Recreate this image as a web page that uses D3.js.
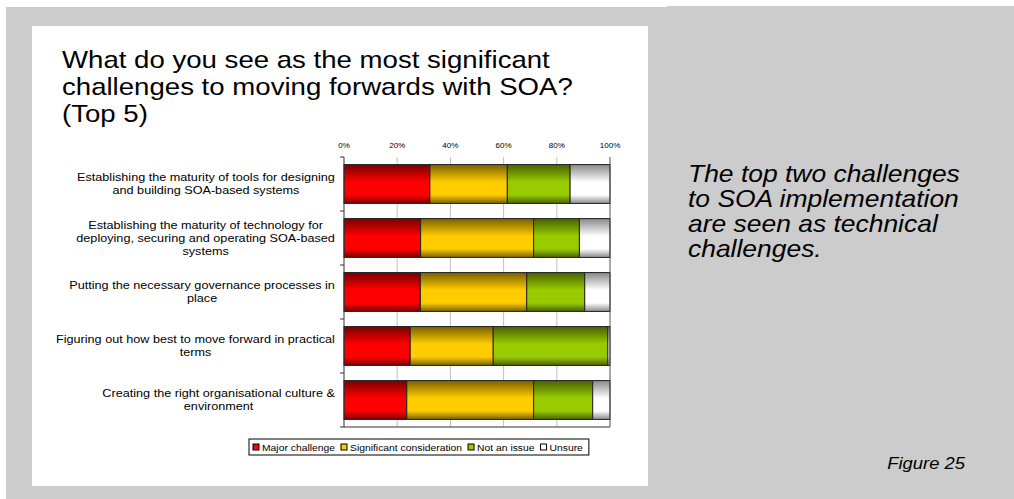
<!DOCTYPE html>
<html>
<head>
<meta charset="utf-8">
<script src="https://cdn.jsdelivr.net/npm/d3@7"></script>
<style>
  body { margin: 0; background: #ffffff; }
  text { font-family: Arial, "Liberation Sans", sans-serif; }
</style>
</head>
<body>
<svg id="chart" width="1014" height="499"></svg>
<script>
// Survey question and answers
const titleLines = [
  "What do you see as the most significant",
  "challenges to moving forwards with SOA?",
  "(Top 5)"
];
const categories = [
  ["Establishing the maturity of tools for designing", "and building SOA-based systems"],
  ["Establishing the maturity of technology for", "deploying, securing and operating SOA-based", "systems"],
  ["Putting the necessary governance processes in", "place"],
  ["Figuring out how best to move forward in practical", "terms"],
  ["Creating the right organisational culture &", "environment"]
];
const seriesNames = ["Major challenge", "Significant consideration", "Not an issue", "Unsure"];
// Share of respondents (%) per challenge
const majorChallenge           = [32.3, 28.8, 28.7, 24.9, 23.6];
const significantConsideration = [29.1, 42.5, 40.0, 31.2, 47.7];
const notAnIssue               = [23.6, 17.2, 21.8, 43.1, 22.2];
const unsure                   = [15.0, 11.5, 9.5, 0.8, 6.5];
const tickValues = [0, 20, 40, 60, 80, 100];
const noteLines = ["The top two challenges", "to SOA implementation", "are seen as technical", "challenges."];
const figureLabel = "Figure 25";

const seriesValues = [majorChallenge, significantConsideration, notAnIssue, unsure];
const palette = [
  { dark: "#780000", bright: "#ff0000", solid: "#ff0000" },
  { dark: "#786000", bright: "#ffcc00", solid: "#ffcc00" },
  { dark: "#486000", bright: "#99cc00", solid: "#99cc00" },
  { dark: "#888888", bright: "#ffffff", solid: "#ffffff" }
];
// Text on the slide is set slightly wide
const SX = 1.15;

const svg = d3.select("#chart");

// Draws a horizontally widened text anchored at (x, y)
function wideText(parent, x, y, size, anchor) {
  return parent.append("g").attr("transform", `translate(${x},${y}) scale(${SX},1)`)
    .append("text").attr("font-size", size).attr("text-anchor", anchor || "start").attr("fill", "#000");
}

// Page panels
svg.append("rect").attr("x", 6).attr("y", 7).attr("width", 662).attr("height", 492).attr("fill", "#cccccc");
svg.append("rect").attr("x", 667).attr("y", 6).attr("width", 347).attr("height", 493).attr("fill", "#cccccc");
svg.append("rect").attr("x", 32).attr("y", 26).attr("width", 616).attr("height", 460).attr("fill", "#ffffff");

// Gradients giving the bars their rounded look
const defs = svg.append("defs");
palette.forEach((p, i) => {
  const g = defs.append("linearGradient").attr("id", "grad" + i)
    .attr("x1", 0).attr("y1", 0).attr("x2", 0).attr("y2", 1);
  g.append("stop").attr("offset", "0%").attr("stop-color", p.dark);
  g.append("stop").attr("offset", "45%").attr("stop-color", p.bright);
  g.append("stop").attr("offset", "78%").attr("stop-color", p.bright);
  g.append("stop").attr("offset", "100%").attr("stop-color", p.dark);
});

// Title
const title = wideText(svg, 62, 0, 24);
titleLines.forEach((l, i) => title.append("tspan").attr("x", 0).attr("y", 68 + i * 27).text(l));

// Chart geometry
const x = d3.scaleLinear().domain([0, 100]).range([344, 610]);
const y = d3.scaleBand().domain(d3.range(categories.length)).range([157, 427])
  .paddingInner(0.28).paddingOuter(0.14);

// Vertical gridlines
svg.append("g").selectAll("line").data(tickValues.filter(v => v > 0 && v < 100)).join("line")
  .attr("x1", d => x(d)).attr("x2", d => x(d)).attr("y1", 157).attr("y2", 427)
  .attr("stroke", "#c0c0c0").attr("stroke-width", 1);

// Top percentage scale labels
const tickG = svg.append("g");
tickValues.forEach(v => wideText(tickG, x(v), 148, 7, "middle").text(v + "%"));

// Stacked bars
const stacked = categories.map((c, i) => {
  let acc = 0;
  return seriesValues.map((s, k) => {
    const seg = { row: i, series: k, x0: acc, x1: acc + s[i] };
    acc += s[i];
    return seg;
  });
}).flat();

svg.append("g").selectAll("rect").data(stacked).join("rect")
  .attr("x", d => x(d.x0))
  .attr("y", d => y(d.row))
  .attr("width", d => x(d.x1) - x(d.x0))
  .attr("height", y.bandwidth())
  .attr("fill", d => `url(#grad${d.series})`)
  .attr("stroke", "#222").attr("stroke-width", 1);

// Left axis with category ticks, bottom and right frame lines
const leftAxis = svg.append("g").attr("transform", "translate(344,0)");
leftAxis.append("line").attr("x1", 0).attr("x2", 0).attr("y1", 157).attr("y2", 427).attr("stroke", "#333");
leftAxis.selectAll("line.tk").data(d3.range(categories.length + 1)).join("line").attr("class", "tk")
  .attr("x1", -4).attr("x2", 0)
  .attr("y1", d => 157 + d * y.step()).attr("y2", d => 157 + d * y.step())
  .attr("stroke", "#333");
svg.append("line").attr("x1", 344).attr("x2", 610).attr("y1", 427).attr("y2", 427).attr("stroke", "#333");
svg.append("line").attr("x1", 610).attr("x2", 610).attr("y1", 157).attr("y2", 427).attr("stroke", "#555");

// Category labels: centred lines, block right-aligned against the axis
const labelG = svg.append("g");
categories.forEach((lines, i) => {
  const cy = y(i) + y.bandwidth() / 2;
  const lh = 13;
  const top = cy - (lines.length - 1) * lh / 2 + 4;
  const g = labelG.append("g");
  const t = g.append("text").attr("font-size", 11).attr("fill", "#000").attr("text-anchor", "middle");
  lines.forEach((l, j) => t.append("tspan").attr("x", 0).attr("y", top + j * lh).text(l));
  let w = 0;
  t.selectAll("tspan").each(function () { w = Math.max(w, this.getComputedTextLength()); });
  g.attr("transform", `translate(${335 - w * SX / 2},0) scale(${SX},1)`);
});

// Legend
const legend = svg.append("g");
const legendBox = legend.append("rect").attr("y", 439).attr("height", 16)
  .attr("fill", "#fff").attr("stroke", "#000").attr("stroke-width", 1);
let lx = 253;
seriesNames.forEach((name, k) => {
  legend.append("rect").attr("x", lx).attr("y", 444).attr("width", 6).attr("height", 6)
    .attr("fill", palette[k].solid).attr("stroke", "#000").attr("stroke-width", 1);
  const t = wideText(legend, lx + 9, 451, 9).text(name);
  lx += 9 + t.node().getComputedTextLength() * SX + 6;
});
legendBox.attr("x", 249).attr("width", lx - 249);

// Note on the right
const note = wideText(svg, 688, 0, 23).attr("font-style", "italic");
noteLines.forEach((l, i) => note.append("tspan").attr("x", 0).attr("y", 182 + i * 25).text(l));
wideText(svg, 965, 469, 16, "end").attr("font-style", "italic").text(figureLabel);
</script>
</body>
</html>
